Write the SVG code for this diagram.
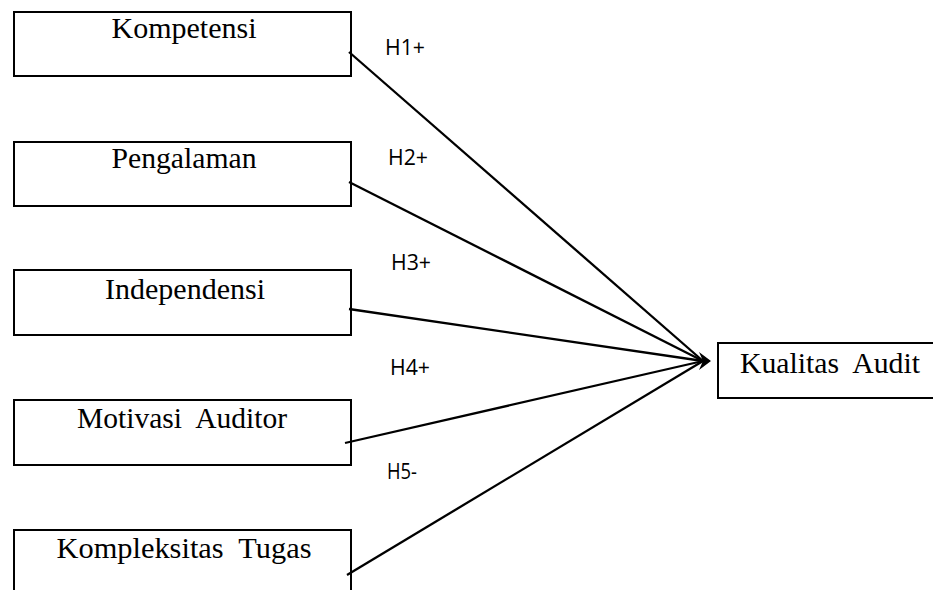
<svg xmlns="http://www.w3.org/2000/svg" width="933" height="590" viewBox="0 0 933 590">
<style>
.box{fill:#fff;stroke:#000;stroke-width:2}
.lbl{font-family:"Liberation Serif","Times New Roman",serif;font-size:30px;fill:#000;text-anchor:middle;white-space:pre}
.h{font-family:"Open Sans","Liberation Sans",sans-serif;font-size:22px;fill:#000}
.con{stroke:#000;stroke-width:2.3;fill:none}
</style>
<rect width="933" height="590" fill="#fff"/>
<g id="kompetensi"><rect class="box" x="14" y="12" width="337" height="64"/><text class="lbl" x="184" y="38" textLength="145" lengthAdjust="spacingAndGlyphs">Kompetensi</text></g>
<g id="pengalaman"><rect class="box" x="14" y="142" width="337" height="64"/><text class="lbl" x="184" y="168" textLength="145" lengthAdjust="spacingAndGlyphs">Pengalaman</text></g>
<g id="independensi"><rect class="box" x="14" y="270" width="337" height="65"/><text class="lbl" x="185" y="299" textLength="160" lengthAdjust="spacingAndGlyphs">Independensi</text></g>
<g id="motivasi"><rect class="box" x="14" y="400" width="337" height="65"/><text class="lbl" x="182" y="428" textLength="210" lengthAdjust="spacingAndGlyphs">Motivasi  Auditor</text></g>
<g id="kompleksitas"><rect class="box" x="14" y="530" width="337" height="70"/><text class="lbl" x="184" y="558" textLength="255" lengthAdjust="spacingAndGlyphs">Kompleksitas  Tugas</text></g>
<g id="kualitas"><rect class="box" x="718" y="343" width="230" height="55"/><text class="lbl" x="830" y="373" textLength="180" lengthAdjust="spacingAndGlyphs">Kualitas  Audit</text></g>
<g id="connectors">
<line class="con" x1="349" y1="52" x2="703" y2="361"/>
<line class="con" x1="349" y1="182" x2="703" y2="361"/>
<line class="con" x1="349" y1="309" x2="703" y2="361"/>
<line class="con" x1="345" y1="443" x2="703" y2="361"/>
<line class="con" x1="347" y1="575" x2="703" y2="361"/>
<polygon points="711,361 699,352 703,361 699,370" fill="#000"/>
<text class="h" x="385" y="55" textLength="40" lengthAdjust="spacingAndGlyphs">H1+</text>
<text class="h" x="388" y="165" textLength="40" lengthAdjust="spacingAndGlyphs">H2+</text>
<text class="h" x="391" y="270" textLength="40" lengthAdjust="spacingAndGlyphs">H3+</text>
<text class="h" x="390" y="375" textLength="40" lengthAdjust="spacingAndGlyphs">H4+</text>
<text class="h" x="387" y="479" textLength="30" lengthAdjust="spacingAndGlyphs">H5-</text>
</g>
</svg>
